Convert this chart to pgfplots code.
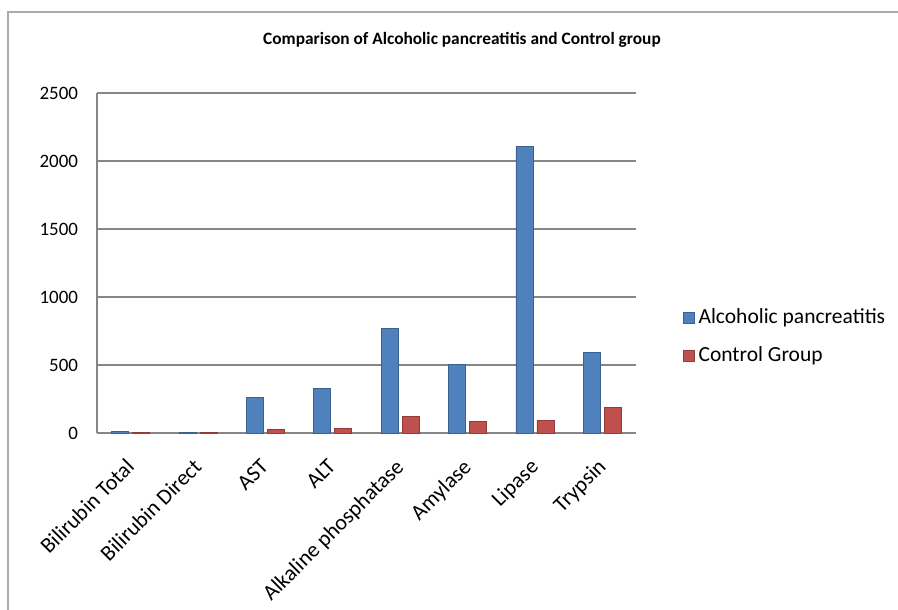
\documentclass[border=0pt]{standalone}
\usepackage{pgfplots}
\pgfplotsset{compat=1.18}
\usepackage{fontspec}
\setmainfont{Carlito}
\definecolor{xlblue}{RGB}{79,129,189}
\definecolor{xlred}{RGB}{192,80,77}
\definecolor{gridgray}{RGB}{134,134,134}

\begin{document}
\begin{tikzpicture}
% reference pixels are mapped at 0.5bp each
\useasboundingbox (0,0) rectangle (449bp,-305bp);
\draw[gridgray!70, line width=0.8bp] (4bp,-305bp) |- (449bp,-6bp);
\node[font=\fontsize{8.7}{10}\selectfont\bfseries] at (231bp,-20bp)
  {Comparison of Alcoholic pancreatitis and Control group};

\begin{axis}[
    at={(48.5bp,-216.5bp)}, anchor=south west,
    scale only axis,
    width=269.5bp, height=170bp,
    ybar, bar width=8.5bp,
    xmin=-0.5, xmax=7.5,
    ymin=0, ymax=2500,
    ytick={0,500,...,2500},
    xtick=data,
    xticklabels={Bilirubin Total, Bilirubin Direct, AST, ALT, Alkaline phosphatase, Amylase, Lipase, Trypsin},
    x tick label style={xshift=-3bp, yshift=-12bp, rotate=45, anchor=north east,
      font=\fontsize{11}{12}\selectfont, inner sep=0bp},
    y tick label style={font=\fontsize{9.5}{11}\selectfont, xshift=-6bp},
    /pgf/number format/assume math mode=true,
    /pgf/number format/1000 sep={},
    scaled y ticks=false,
    major tick length=0pt,
    axis x line*=bottom, axis y line*=left,
    axis line style={gridgray, line width=0.8bp},
    ymajorgrids, grid style={gridgray, line width=0.6bp},
    legend style={at={(1.075,0.39)}, anchor=north west, draw=none, fill=none,
      font=\fontsize{10.8}{12}\selectfont, row sep=6bp,
      legend cell align=left},
    legend image code/.code={\fill[#1] (0bp,-2.8bp) rectangle (5.5bp,2.8bp);},
  ]
\addplot[draw=xlblue!75!black, fill=xlblue]
  coordinates {(0,12) (1,6) (2,262) (3,328) (4,772) (5,505) (6,2105) (7,592)};
\addlegendentry{Alcoholic pancreatitis}
\addplot[draw=xlred!75!black, fill=xlred]
  coordinates {(0,5) (1,3) (2,28) (3,33) (4,125) (5,85) (6,95) (7,190)};
\addlegendentry{Control Group}
\end{axis}
\end{tikzpicture}
\end{document}
